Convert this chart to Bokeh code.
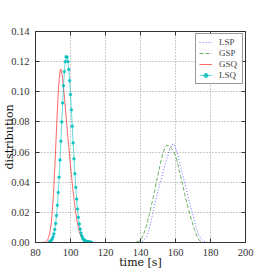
import numpy as np
from bokeh.plotting import figure
from bokeh.models import (Range1d, SingleIntervalTicker, LinearAxis, Legend,
                          LegendItem, CustomJSTickFormatter)
from bokeh.embed import file_html
from bokeh.resources import INLINE

# ---------------- data ----------------
t_gsq = np.arange(84, 110.01, 0.5)
gsq = [0.0000, 0.0001, 0.0002, 0.0003, 0.0006, 0.0011, 0.0020, 0.0034, 0.0056, 0.0088,
       0.0133, 0.0195, 0.0275, 0.0373, 0.0489, 0.0617, 0.0751, 0.0881, 0.0995, 0.1083,
       0.1136, 0.1150, 0.1125, 0.1085, 0.1030, 0.0968, 0.0900, 0.0832, 0.0765, 0.0700,
       0.0636, 0.0572, 0.0510, 0.0450, 0.0392, 0.0337, 0.0286, 0.0240, 0.0198, 0.0160,
       0.0127, 0.0098, 0.0074, 0.0055, 0.0040, 0.0028, 0.0019, 0.0013, 0.0008, 0.0005,
       0.0003, 0.0002, 0.0001]

t_lsq = np.arange(88, 112.01, 0.5)
lsq = [0.0005, 0.0008, 0.0014, 0.0023, 0.0036, 0.0057, 0.0086, 0.0126, 0.0179, 0.0247,
       0.0332, 0.0433, 0.0547, 0.0672, 0.0800, 0.0926, 0.1040, 0.1134, 0.1200, 0.1232,
       0.1230, 0.1201, 0.1148, 0.1074, 0.0982, 0.0880, 0.0771, 0.0661, 0.0555, 0.0456,
       0.0366, 0.0288, 0.0222, 0.0167, 0.0123, 0.0089, 0.0063, 0.0043, 0.0029, 0.0020,
       0.0013, 0.0010, 0.0008, 0.0006, 0.0005, 0.0004, 0.0003, 0.0002, 0.0001]

t_gsp = np.arange(134, 177, 1)
gsp = [0.0, 0.0, 0.0, 0.0001, 0.0003, 0.0008, 0.0018, 0.0035, 0.0062, 0.0095,
       0.0140, 0.0185, 0.0235, 0.0285, 0.0340, 0.0395, 0.0450, 0.0505, 0.0555, 0.0595,
       0.0630, 0.0645, 0.0642, 0.0633, 0.0620, 0.0603, 0.0575, 0.0535, 0.0485, 0.0435,
       0.0385, 0.0335, 0.0285, 0.0240, 0.0195, 0.0155, 0.0115, 0.0080, 0.0050, 0.0025,
       0.0010, 0.0003, 0.0]

t_lsp = np.arange(136, 181, 1)
lsp = [0.0, 0.0, 0.0, 0.0001, 0.0003, 0.0008, 0.0016, 0.0030, 0.0055, 0.0090,
       0.0140, 0.0195, 0.0250, 0.0295, 0.0340, 0.0385, 0.0425, 0.0470, 0.0515, 0.0555,
       0.0590, 0.0625, 0.0650, 0.0655, 0.0630, 0.0595, 0.0550, 0.0500, 0.0455, 0.0410,
       0.0360, 0.0315, 0.0270, 0.0225, 0.0180, 0.0135, 0.0095, 0.0060, 0.0035, 0.0018,
       0.0008, 0.0003, 0.0001, 0.0, 0.0]

series_names = ["LSP", "GSP", "GSQ", "LSQ"]
x_label = "time [s]"
y_label = "distribution"

# ---------------- figure ----------------
TICK_FONT = "Liberation Serif"
LABEL_FONT = "DejaVu Serif"
p = figure(width=272, height=272, output_backend="svg", toolbar_location=None,
           x_range=Range1d(80, 200), y_range=Range1d(0, 0.14),
           min_border_left=34, min_border_right=27, min_border_top=31,
           min_border_bottom=30)
p.background_fill_color = "white"
p.border_fill_color = "white"
p.outline_line_color = "#333333"
p.outline_line_width = 1

xt = SingleIntervalTicker(interval=20)
yt = SingleIntervalTicker(interval=0.02)
p.xaxis.ticker = xt
p.yaxis.ticker = yt
for ax in (p.xaxis[0], p.yaxis[0]):
    ax.major_tick_in = 4
    ax.major_tick_out = 0
    ax.minor_tick_line_color = None
    ax.axis_line_color = "#333333"
    ax.major_tick_line_color = "#333333"
    ax.major_label_text_font = TICK_FONT
    ax.major_label_text_font_size = "10.5px"
    ax.major_label_text_color = "#333333"
    ax.major_label_standoff = 2
    ax.axis_label_text_font = LABEL_FONT
    ax.axis_label_text_font_size = "11px"
    ax.axis_label_text_font_style = "normal"
    ax.axis_label_text_color = "#111111"
p.yaxis.formatter = CustomJSTickFormatter(code="return tick.toFixed(2);")
p.xaxis.axis_label = x_label
p.yaxis.axis_label = y_label
p.xaxis.axis_label_standoff = -3
p.yaxis.axis_label_standoff = -8

blank = CustomJSTickFormatter(code="return '';")
top = LinearAxis(ticker=SingleIntervalTicker(interval=20), formatter=blank,
                 major_tick_in=4, major_tick_out=0, minor_tick_line_color=None,
                 axis_line_color="#333333", major_tick_line_color="#333333",
                 major_label_text_font_size="1px")
right = LinearAxis(ticker=SingleIntervalTicker(interval=0.02), formatter=blank,
                   major_tick_in=4, major_tick_out=0, minor_tick_line_color=None,
                   axis_line_color="#333333", major_tick_line_color="#333333",
                   major_label_text_font_size="1px")
p.add_layout(top, "above")
p.add_layout(right, "right")

p.xgrid.ticker = xt
p.ygrid.ticker = yt
for g in (p.xgrid[0], p.ygrid[0]):
    g.grid_line_color = "#9a9a9a"
    g.grid_line_dash = "1 2"
    g.grid_line_width = 1

ALPHA = 0.6
r_lsp = p.line(t_lsp, lsp, line_color="#0000ff", line_dash="1 2", line_width=1, line_alpha=ALPHA)
r_gsp = p.line(t_gsp, gsp, line_color="#008000", line_dash="4 2", line_width=1, line_alpha=ALPHA)
r_gsq = p.line(t_gsq, gsq, line_color="#ff0000", line_width=1, line_alpha=ALPHA)
r_lsq = p.line(t_lsq, lsq, line_color="#00bfbf", line_width=1, line_alpha=ALPHA)
r_lsq_m = p.scatter(t_lsq, lsq, size=2.5, color="#00bfbf", alpha=0.8)

legend = Legend(items=[
    LegendItem(label=series_names[0], renderers=[r_lsp]),
    LegendItem(label=series_names[1], renderers=[r_gsp]),
    LegendItem(label=series_names[2], renderers=[r_gsq]),
    LegendItem(label=series_names[3], renderers=[r_lsq, r_lsq_m]),
], location="top_right")
legend.label_text_font = TICK_FONT
legend.label_text_font_size = "9px"
legend.label_height = 10
legend.glyph_height = 10
legend.glyph_width = 13
legend.spacing = 1
legend.padding = 3
legend.margin = 2
legend.label_standoff = 7
legend.border_line_color = "#333333"
legend.border_line_width = 1
legend.background_fill_alpha = 1.0
p.add_layout(legend)

open("out.html", "w").write(file_html(p, INLINE))
